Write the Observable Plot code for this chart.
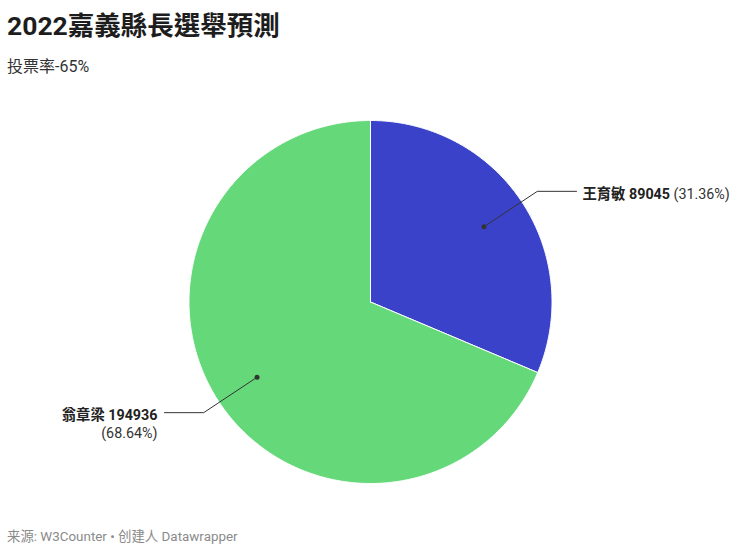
<!DOCTYPE html>
<html>
<head>
<meta charset="utf-8">
<script src="https://cdn.jsdelivr.net/npm/d3@7"></script>
<script src="https://cdn.jsdelivr.net/npm/@observablehq/plot@0.6"></script>
<style>
  html, body { margin: 0; padding: 0; background: #fff; width: 740px; height: 552px; overflow: hidden; }
  body { font-family: Roboto, "Noto Sans CJK TC", "Noto Sans CJK SC", sans-serif; }
  #title { position: absolute; left: 7px; top: 8px; font-size: 26.5px; font-weight: 700; color: #1d1d1d; line-height: 36px; white-space: nowrap; }
  #subtitle { position: absolute; left: 7px; top: 56px; font-size: 16px; color: #333; line-height: 22px; white-space: nowrap; }
  #chart { position: absolute; left: 0; top: 96px; }
  #footer { position: absolute; left: 7px; top: 527px; font-size: 13.4px; color: #8a8a8a; line-height: 20px; white-space: nowrap; }
</style>
</head>
<body>
<div id="title">2022嘉義縣長選舉預測</div>
<div id="subtitle">投票率-65%</div>
<div id="chart"></div>
<div id="footer">来源: W3Counter • 创建人 Datawrapper</div>
<script>
const candidates = ["王育敏", "翁章梁"];
const votes = [89045, 194936];
const percents = ["31.36%", "68.64%"];
const colors = ["#3a42c9", "#65d97a"];

// pie angles from data (clockwise from 12 o'clock)
const total = d3.sum(votes);
const slices = [];
let start = 0;
votes.forEach((v, i) => {
  const end = start + (v / total) * 2 * Math.PI;
  slices.push({name: candidates[i], votes: v, pct: percents[i], color: colors[i], start, end, mid: (start + end) / 2});
  start = end;
});

// polygon outlines of each slice in unit coordinates
const outline = [];
for (const s of slices) {
  outline.push({slice: s.name, x: 0, y: 0});
  const n = Math.max(2, Math.ceil((s.end - s.start) / (Math.PI / 360)));
  for (let k = 0; k <= n; k++) {
    const a = s.start + (s.end - s.start) * k / n;
    outline.push({slice: s.name, x: Math.sin(a), y: Math.cos(a)});
  }
  outline.push({slice: s.name, x: 0, y: 0});
}

// label leader geometry
const rDot = 0.75, rElbow = 1.103, hLen = 0.216;
const leaders = [];
const dots = [];
const labels = [];
for (const s of slices) {
  const sx = Math.sin(s.mid), cy = Math.cos(s.mid);
  const side = sx >= 0 ? 1 : -1;
  const ex = rElbow * sx, ey = rElbow * cy;
  const hx = ex + side * hLen;
  leaders.push({slice: s.name, x: rDot * sx, y: rDot * cy});
  leaders.push({slice: s.name, x: ex, y: ey});
  leaders.push({slice: s.name, x: hx, y: ey});
  dots.push({x: rDot * sx, y: rDot * cy});
  labels.push({...s, x: hx, y: ey, side});
}

const R = 181.5;
const cx = 370, cyPx = 205.5;
const W = 740, H = 420;

const chart = Plot.plot({
  width: W,
  height: H,
  marginLeft: cx - R,
  marginRight: W - (cx + R),
  marginTop: cyPx - R,
  marginBottom: H - (cyPx + R),
  x: {domain: [-1, 1], axis: null},
  y: {domain: [-1, 1], axis: null},
  style: {fontFamily: 'Roboto, "Noto Sans CJK TC", sans-serif', overflow: "visible", background: "transparent"},
  marks: [
    Plot.line(outline, {x: "x", y: "y", z: "slice", fill: (d) => colors[candidates.indexOf(d.slice)], stroke: "#ffffff", strokeWidth: 1, strokeLinejoin: "miter", curve: "linear"}),
    Plot.line(leaders, {x: "x", y: "y", z: "slice", stroke: "#333", strokeWidth: 1}),
    Plot.dot(dots, {x: "x", y: "y", r: 2.5, fill: "#333", stroke: "none"}),
    // right label (single line)
    Plot.text(labels.filter(d => d.side > 0), {x: "x", y: "y", text: (d) => `${d.name} ${d.votes}`, textAnchor: "start", dx: 6, dy: 3, fontSize: 14.3, fontWeight: 700, fill: "#222"}),
    // left label (two lines)
    Plot.text(labels.filter(d => d.side < 0), {x: "x", y: "y", text: (d) => `${d.name} ${d.votes}`, textAnchor: "end", dx: -7, dy: 3, fontSize: 14.3, fontWeight: 700, fill: "#222"}),
    Plot.text(labels.filter(d => d.side < 0), {x: "x", y: "y", text: (d) => `(${d.pct})`, textAnchor: "end", dx: -7, dy: 21, fontSize: 14.3, fontWeight: 400, fill: "#333"})
  ]
});
document.getElementById("chart").appendChild(chart);

// append percentage to right label as a normal-weight tspan
const svg = d3.select(chart);
svg.selectAll("text").each(function() {
  const t = d3.select(this);
  const txt = t.text();
  const s = slices.find(s => s.start === 0);
  if (txt === `${s.name} ${s.votes}` && t.attr("text-anchor") !== "end") {
    const tspan = t.select("tspan");
    const target = tspan.empty() ? t : tspan;
    target.text(txt + " ");
    target.append("tspan").attr("font-weight", 400).attr("fill", "#333").text(`(${s.pct})`);
  }
});
</script>
</body>
</html>
